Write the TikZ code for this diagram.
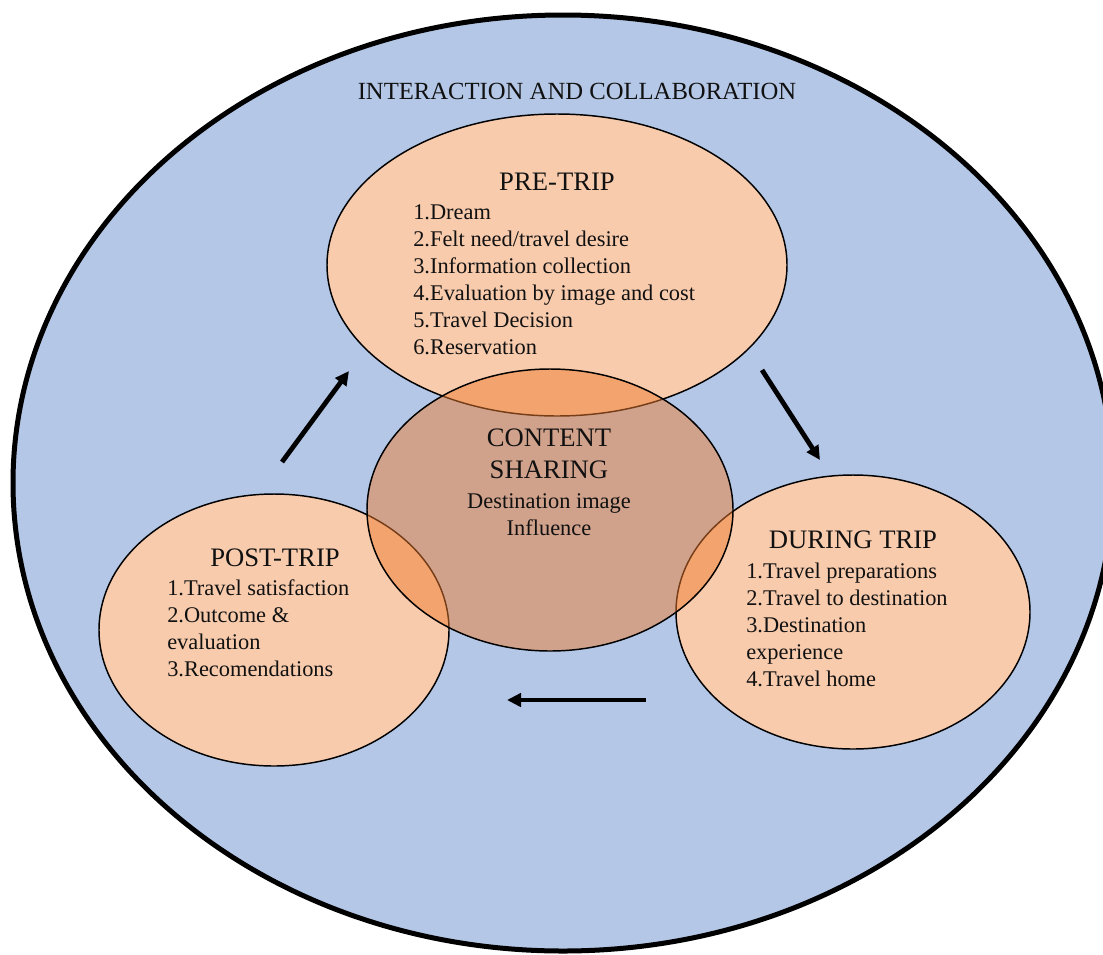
\documentclass[tikz,border=0pt]{standalone}
\usepackage{fontspec}
\setmainfont{Liberation Serif}
\usetikzlibrary{arrows.meta,shapes.geometric}
\definecolor{bgblue}{HTML}{B4C7E7}
\definecolor{peach}{HTML}{F8CBAD}
\definecolor{accent}{HTML}{ED7D31}
\definecolor{txt}{HTML}{111111}
\begin{document}
\begin{tikzpicture}[x=0.75pt,y=-0.75pt,
  phase/.style={ellipse, draw=black, line width=1.1pt, fill=peach, inner sep=0pt},
  hub/.style={ellipse, draw=black, line width=1.1pt, fill=accent, fill opacity=0.5, inner sep=0pt},
  heading/.style={font=\fontsize{20}{24}\selectfont, text=txt, inner sep=0pt, align=center},
  toplabel/.style={font=\fontsize{18.5}{22}\selectfont, text=txt, inner sep=0pt},
  items/.style={font=\fontsize{16.8}{20.25}\selectfont, text=txt, inner sep=0pt, align=left, anchor=west},
  details/.style={font=\fontsize{16.8}{20.25}\selectfont, text=txt, inner sep=0pt, align=center},
  flow/.style={line width=3.6pt, -{Triangle[length=10.5pt,width=10pt]}}]
\useasboundingbox (0,0) rectangle (1103,954);
\clip (0,0) rectangle (1103,954);
% outer ellipse
\node[ellipse, draw=black, line width=3.75pt, fill=bgblue, inner sep=0pt,
      minimum width=825pt, minimum height=702pt] (outer) at (563,483) {};
\node[toplabel] (inter) at (577,91) {INTERACTION AND COLLABORATION};
% phase ellipses
\node[phase, minimum width=345pt, minimum height=226.5pt] (pre) at (557,265) {};
\node[phase, minimum width=262.5pt, minimum height=204pt] (post) at (274,630) {};
\node[phase, minimum width=265.5pt, minimum height=205.5pt] (during) at (853,612) {};
% content sharing (translucent)
\node[hub, minimum width=274.5pt, minimum height=211.5pt] (content) at (550,510) {};
% texts
\node[heading] (pretitle) at (557,182) {PRE-TRIP};
\node[items] (preitems) at (413,279.5) {1.Dream\\2.Felt need/travel desire\\3.Information collection\\4.Evaluation by image and cost\\5.Travel Decision\\6.Reservation};
\node[heading] (ctitle) at (549,454) {CONTENT\\SHARING};
\node[details] (cdetails) at (549,514.5) {Destination image\\Influence};
\node[heading] (posttitle) at (275,558) {POST-TRIP};
\node[items] (postitems) at (167,628.5) {1.Travel satisfaction\\2.Outcome \&\\evaluation\\3.Recomendations};
\node[heading] (durtitle) at (853,540) {DURING TRIP};
\node[items] (duritems) at (746,625) {1.Travel preparations\\2.Travel to destination\\3.Destination\\experience\\4.Travel home};
% arrows
\coordinate (a1s) at (282,462); \coordinate (a1e) at (349,371);
\coordinate (a2s) at (762,370); \coordinate (a2e) at (820,460);
\coordinate (a3s) at (646,700); \coordinate (a3e) at (507,700);
\draw[flow] (a1s) -- (a1e);
\draw[flow] (a2s) -- (a2e);
\draw[flow] (a3s) -- (a3e);
\end{tikzpicture}
\end{document}
